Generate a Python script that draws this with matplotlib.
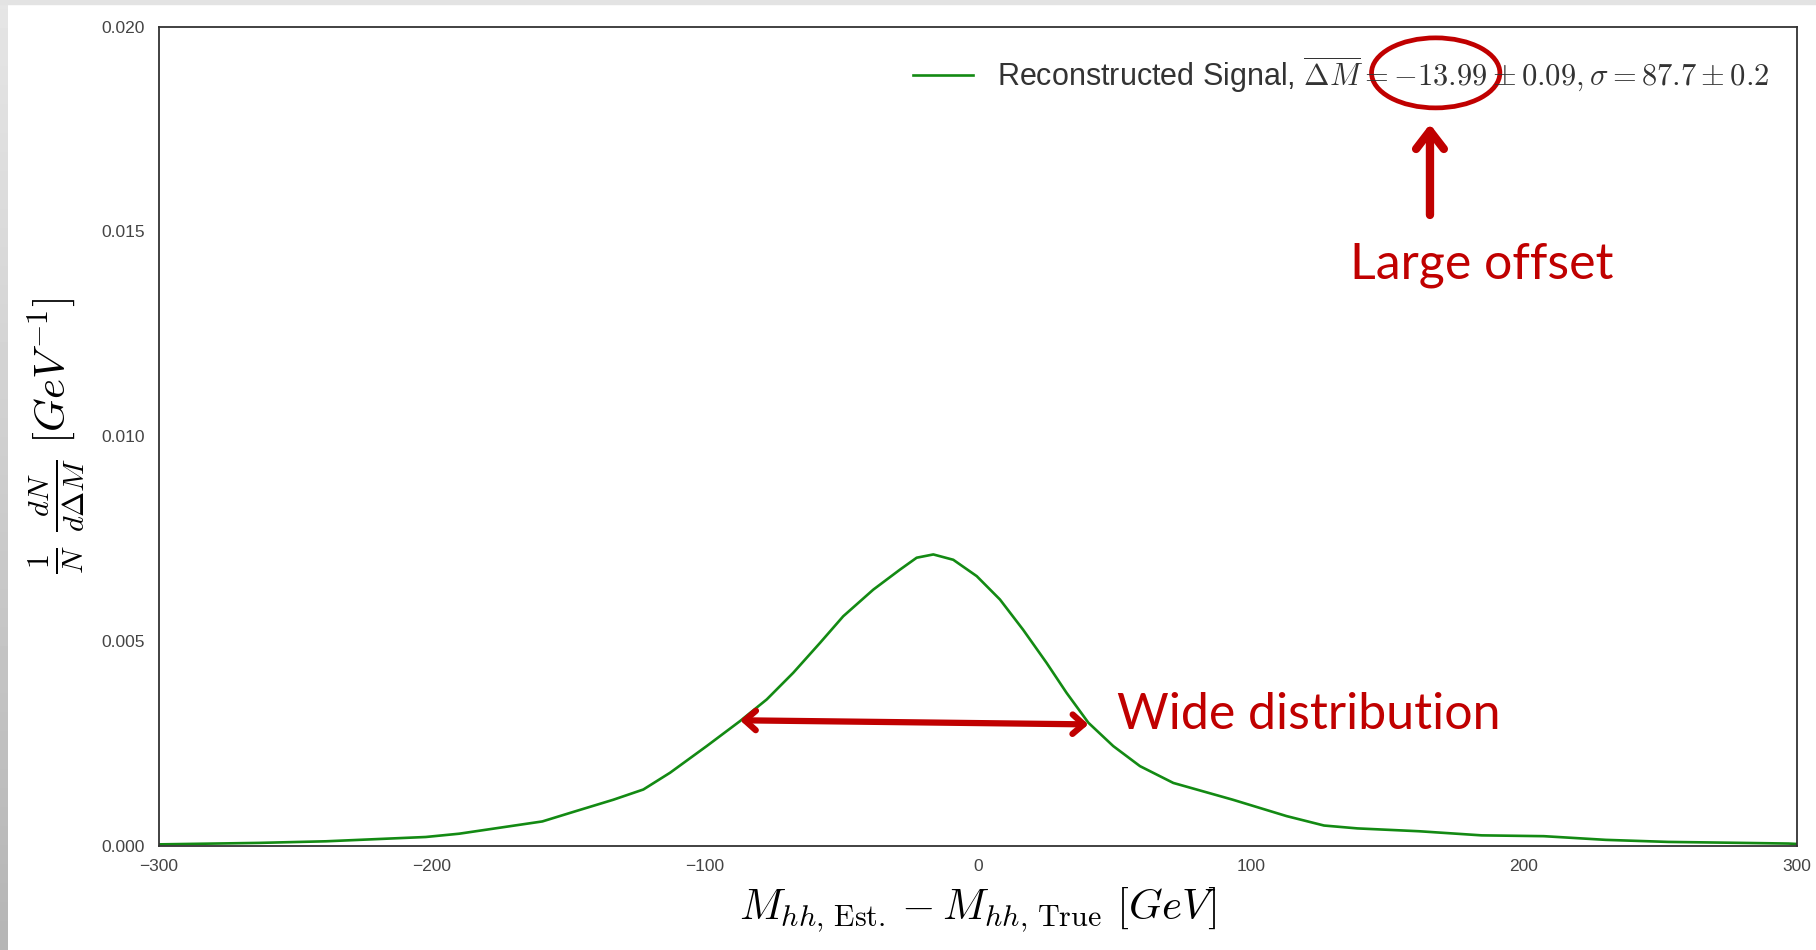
import numpy as np
import matplotlib
matplotlib.use("Agg")
import matplotlib.pyplot as plt
from matplotlib.patches import Ellipse

# Mass residual distribution (kernel-smoothed), GeV vs normalised density
delta_m = [-300, -263.3, -238.8, -202.2, -190, -177.8, -159.5, -147.3, -133.5,
           -122.5, -112.7, -99.3, -87.1, -77.3, -67.6, -57.8, -49.3, -38.3,
           -28.5, -22.4, -16.3, -9, -0.4, 8.1, 16.6, 25.2, 32.5, 40.5, 49.6,
           59.4, 71.6, 93.4, 113.1, 126.8, 139, 161.7, 184.5, 207.3, 230,
           252.8, 275.6, 296.9, 300]
density = [0.00003, 0.000066, 0.000105, 0.00021, 0.00029, 0.00041, 0.00059,
           0.00084, 0.00112, 0.00137, 0.00178, 0.00243, 0.00304, 0.00357,
           0.00422, 0.00495, 0.0056, 0.00625, 0.00674, 0.00703, 0.00711,
           0.00698, 0.00658, 0.00601, 0.00527, 0.00446, 0.00373, 0.003,
           0.00243, 0.00194, 0.00153, 0.00112, 0.00072, 0.00049, 0.00042,
           0.00035, 0.00025, 0.00023, 0.00014, 0.00009, 0.00007, 0.00005,
           0.00004]

x_ticks = [-300, -200, -100, 0, 100, 200, 300]
y_ticks = [0.000, 0.005, 0.010, 0.015, 0.020]

mean_offset, mean_err = -13.99, 0.09
sigma, sigma_err = 87.7, 0.2

plt.rcParams["mathtext.fontset"] = "cm"
RED = "#C00000"
SANS = "Liberation Sans"

fig = plt.figure(figsize=(18.16, 9.5), dpi=100)

# slide frame: grey gradient strip on the left, thin grey band on top
strip = fig.add_axes([0, 0, 8 / 1816, 1])
strip.imshow(np.linspace(0.90, 0.71, 100).reshape(-1, 1), cmap="gray",
             vmin=0, vmax=1, aspect="auto", extent=[0, 1, 0, 1])
strip.axis("off")
fig.patches.append(plt.Rectangle((0, 1 - 4 / 950), 1, 4 / 950,
                                 transform=fig.transFigure,
                                 color="#e3e3e3", zorder=0))

ax = fig.add_axes([0.0874, 0.1099, 0.9021, 0.8621])
label = (r"Reconstructed Signal, $\overline{\Delta M}=%.2f\pm %.2f,"
         r"\sigma=%.1f\pm %.1f$" % (mean_offset, mean_err, sigma, sigma_err))
ax.plot(delta_m, density, color="#138a13", lw=1.9, label=label)

ax.set_xlim(-300, 300)
ax.set_ylim(0, 0.020)
ax.set_xticks(x_ticks)
ax.set_yticks(y_ticks)
ax.set_xticklabels([str(v).replace("-", "\u2212") for v in x_ticks])
ax.set_yticklabels(["%.3f" % v for v in y_ticks])
ax.tick_params(length=0, pad=10, labelsize=12.5, labelcolor="#444444")
for lab in ax.get_xticklabels() + ax.get_yticklabels():
    lab.set_family(SANS)
for s in ax.spines.values():
    s.set_color("#333333")
    s.set_linewidth(1.3)

ax.set_xlabel(r"$M_{hh,\,\mathrm{Est.}}-M_{hh,\,\mathrm{True}}\ [GeV]$",
              fontsize=31, labelpad=8)
ax.set_ylabel(r"$\frac{1}{N}\ \frac{dN}{d\Delta M}\ [GeV^{-1}]$",
              fontsize=31, labelpad=10)

leg = ax.legend(loc="upper right", frameon=False,
                handlelength=1.95, handletextpad=0.8, borderaxespad=0.5,
                prop={"family": SANS, "size": 22})
for t in leg.get_texts():
    t.set_color("#333333")

# annotations
ax.add_patch(Ellipse((167.7, 0.01887), 47, 0.00171, fill=False,
                     edgecolor=RED, lw=3.4, zorder=5))
ax.annotate("", xy=(165.6, 0.01762), xytext=(165.6, 0.0154),
            arrowprops=dict(arrowstyle="->,head_length=1.3,head_width=1.0",
                            color=RED, lw=6, shrinkA=0, shrinkB=0))
ax.text(184.6, 0.01418, "Large offset", color=RED, fontsize=36,
        family="Lato", ha="center", va="center")

ax.annotate("", xy=(40.5, 0.00296), xytext=(-87.1, 0.00306),
            arrowprops=dict(arrowstyle="<->,head_length=0.8,head_width=0.7",
                            color=RED, lw=4.5, shrinkA=0, shrinkB=0))
ax.text(51, 0.0032, "Wide distribution", color=RED, fontsize=36,
        family="Lato", ha="left", va="center")

fig.savefig("out.png", dpi=100)
